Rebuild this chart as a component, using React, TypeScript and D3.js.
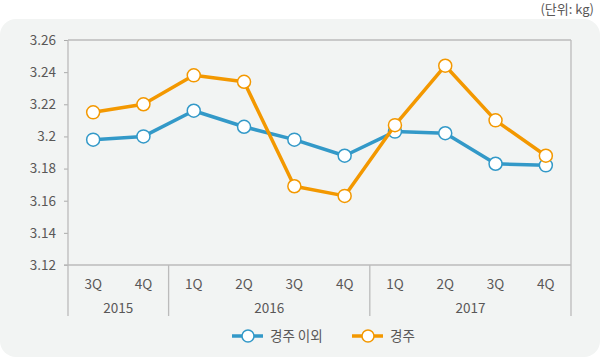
import { useEffect, useRef } from "react";
import * as d3 from "d3";

const quarters = ["3Q", "4Q", "1Q", "2Q", "3Q", "4Q", "1Q", "2Q", "3Q", "4Q"];
const years = [
  { label: "2015", start: 0, end: 2 },
  { label: "2016", start: 2, end: 6 },
  { label: "2017", start: 6, end: 10 },
];
const others = [3.198, 3.2, 3.216, 3.206, 3.198, 3.188, 3.203, 3.202, 3.183, 3.182];
const gyeongju = [3.215, 3.22, 3.238, 3.234, 3.169, 3.163, 3.207, 3.244, 3.21, 3.188];
const yTicks = [3.12, 3.14, 3.16, 3.18, 3.2, 3.22, 3.24, 3.26];

const BLUE = "#3399c8";
const ORANGE = "#f39800";
const TEXT = "#595757";
const FONT = "'Noto Sans CJK KR', 'Noto Sans', sans-serif";
const FS = 13.5;

const App = () => {
  const svgRef = useRef(null);

  useEffect(() => {
    document.body.style.margin = "0";
    document.body.style.overflow = "hidden";

    const width = 600;
    const height = 358;
    const left = 68;
    const right = 571;
    const top = 40;
    const bottom = 265;
    const lineBottom = 316;

    const svg = d3.select(svgRef.current);
    svg.selectAll("*").remove();
    svg.attr("width", width).attr("height", height).style("font-family", FONT);

    // фон
    svg
      .append("rect")
      .attr("x", 0)
      .attr("y", 19)
      .attr("width", width)
      .attr("height", height - 19 - 1)
      .attr("rx", 16)
      .attr("fill", "#f2f4f3");

    svg
      .append("text")
      .attr("x", 594)
      .attr("y", 14)
      .attr("text-anchor", "end")
      .attr("font-size", 13)
      .attr("fill", TEXT)
      .text("(단위: kg)");

    const x = d3.scaleLinear().domain([0, quarters.length]).range([left, right]);
    const y = d3.scaleLinear().domain([3.12, 3.26]).range([bottom, top]);

    // Y ось
    const yAxis = svg
      .append("g")
      .attr("transform", `translate(${left},0)`)
      .call(
        d3
          .axisLeft(y)
          .tickValues(yTicks)
          .tickSize(4)
          .tickPadding(8)
          .tickFormat((d) => String(+d))
      );
    yAxis.select(".domain").remove();
    yAxis.selectAll("line").attr("stroke", "#aaaaaa");
    yAxis.selectAll("text").attr("font-size", FS).attr("fill", TEXT).attr("font-family", FONT);

    const grid = "#bbbbbb";
    const frame = [
      [left, top, left, lineBottom],
      [right, top, right, lineBottom],
      [left, top, right, top],
      [left - 4, bottom, right, bottom],
      ...years.slice(1).map((yr) => [x(yr.start), bottom, x(yr.start), lineBottom]),
    ];
    svg
      .selectAll("line.frame")
      .data(frame)
      .enter()
      .append("line")
      .attr("class", "frame")
      .attr("x1", (d) => d[0])
      .attr("y1", (d) => d[1])
      .attr("x2", (d) => d[2])
      .attr("y2", (d) => d[3])
      .attr("stroke", grid)
      .attr("stroke-width", 1.3);

    // подписи кварталов
    svg
      .selectAll("text.q")
      .data(quarters)
      .enter()
      .append("text")
      .attr("class", "q")
      .attr("x", (_, i) => x(i + 0.5))
      .attr("y", 289)
      .attr("text-anchor", "middle")
      .attr("font-size", FS)
      .attr("fill", TEXT)
      .text((d) => d);

    svg
      .selectAll("text.yr")
      .data(years)
      .enter()
      .append("text")
      .attr("class", "yr")
      .attr("x", (d) => x((d.start + d.end) / 2))
      .attr("y", 313)
      .attr("text-anchor", "middle")
      .attr("font-size", FS)
      .attr("fill", TEXT)
      .text((d) => d.label);

    const line = d3
      .line<number>()
      .x((_, i) => x(i + 0.5))
      .y((d) => y(d));

    const series = [
      { name: "경주 이외", values: others, color: BLUE },
      { name: "경주", values: gyeongju, color: ORANGE },
    ];

    series.forEach((s) => {
      svg
        .append("path")
        .datum(s.values)
        .attr("d", line)
        .attr("fill", "none")
        .attr("stroke", s.color)
        .attr("stroke-width", 3.5)
        .attr("stroke-linejoin", "round");
      svg
        .selectAll(null)
        .data(s.values)
        .enter()
        .append("circle")
        .attr("cx", (_, i) => x(i + 0.5))
        .attr("cy", (d) => y(d))
        .attr("r", 6.5)
        .attr("fill", "#ffffff")
        .attr("stroke", s.color)
        .attr("stroke-width", 1.5);
    });

    // легенда
    const legendPos = [232, 352];
    series.forEach((s, i) => {
      const lx = legendPos[i];
      const g = svg.append("g").attr("transform", `translate(${lx},336)`);
      g.append("line")
        .attr("x1", 0)
        .attr("x2", 31)
        .attr("stroke", s.color)
        .attr("stroke-width", 3.5);
      g.append("circle")
        .attr("cx", 16)
        .attr("r", 6)
        .attr("fill", "#ffffff")
        .attr("stroke", s.color)
        .attr("stroke-width", 1.5);
      g.append("text")
        .attr("x", 38)
        .attr("y", 5)
        .attr("font-size", FS)
        .attr("fill", TEXT)
        .text(s.name);
    });
  }, []);

  return (
    <div>
      <svg ref={svgRef} style={{ display: "block" }}></svg>
    </div>
  );
};

export default App;
